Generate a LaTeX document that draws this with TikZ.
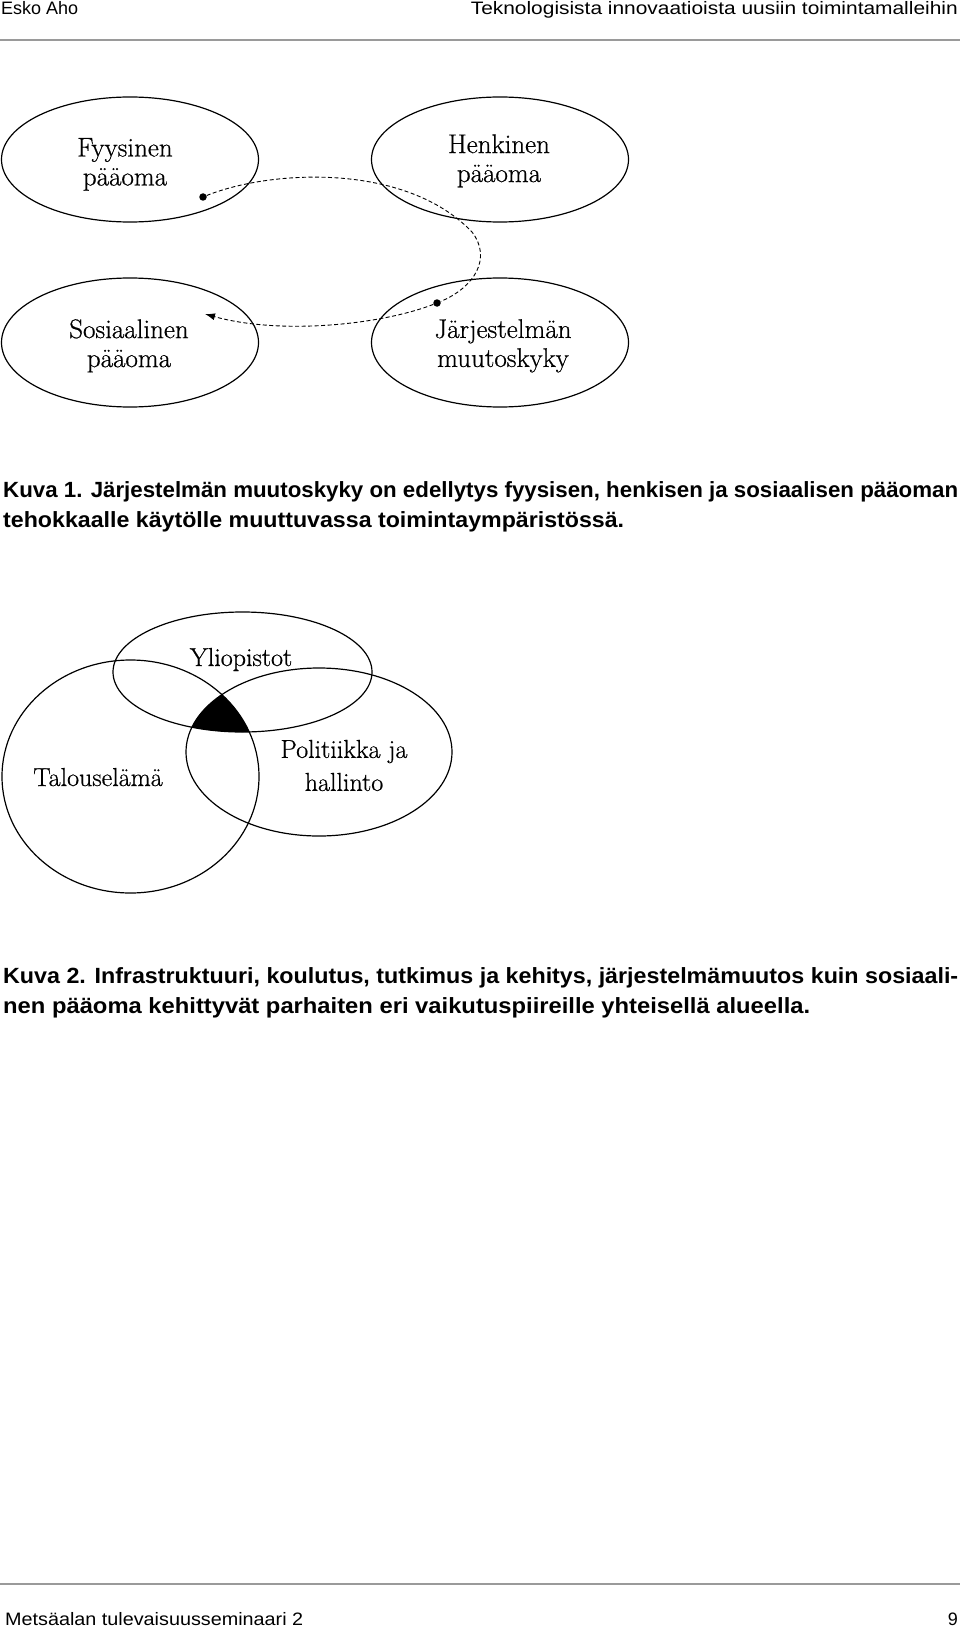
\documentclass[tikz,border=0pt]{standalone}
\usepackage{fontspec}
\usepackage{graphicx}
\usetikzlibrary{arrows.meta,shapes.geometric}
\newfontfamily\hdrfont{Liberation Sans}
\newfontfamily\labfont{Latin Modern Roman}[FakeBold=0.6]
\definecolor{cRule}{HTML}{9A9A9A}
\newcommand{\fitto}[2]{\resizebox{#1}{\height}{#2}}

\begin{document}
\begin{tikzpicture}[x=1pt, y=-1pt,
    ell/.style={ellipse, draw, line width=1.2pt, minimum width=257pt,
      minimum height=125pt, inner sep=0pt},
    lab/.style={font=\labfont\fontsize{27}{29}\selectfont, align=center, inner sep=0pt},
    vlab/.style={font=\labfont\fontsize{26}{33}\selectfont, align=center, inner sep=0pt},
    dotmark/.style={circle, fill, inner sep=0pt, minimum size=7.5pt},
    dashd/.style={dash pattern=on 4pt off 2.5pt, line width=0.9pt},
    flowd/.style={dashd, -{Latex[length=10pt,width=7pt]}},
    venn/.style={line width=1.2pt},
    hdr/.style={font=\hdrfont\fontsize{18}{22}\selectfont, anchor=base west, inner sep=0pt},
    captxt/.style={font=\hdrfont\bfseries\fontsize{22}{26}\selectfont, anchor=base west, inner sep=0pt},
    hrule/.style={draw=cRule, line width=2pt}]

    \useasboundingbox (0,0) rectangle (960,1629);

    % page header and footer
    \node[hdr] (author) at (1,15) {\fitto{77pt}{Esko Aho}};
    \node[hdr, anchor=base east] (title) at (958,15)
      {\fitto{487pt}{Teknologisista innovaatioista uusiin toimintamalleihin}};
    \draw[hrule] (0,40.5) -- (960,40.5);
    \draw[hrule] (0,1584) -- (960,1584);
    \node[hdr] (series) at (5,1625) {\fitto{298pt}{Metsäalan tulevaisuusseminaari 2}};
    \node[hdr, anchor=base east] (page) at (958,1625) {9};

    % Kuva 1
    \node[ell] (fys) at (130,159.5) {};
    \node[ell] (hen) at (500,159.5) {};
    \node[ell, minimum height=129pt] (sos) at (130,342.5) {};
    \node[ell, minimum height=129pt] (jar) at (500,342.5) {};

    \node[lab] (fysT) at (125,164.4) {Fyysinen\\pääoma};
    \node[lab] (henT) at (499,160.8) {Henkinen\\pääoma};
    \node[lab] (sosT) at (129,345.8) {Sosiaalinen\\pääoma};
    \node[lab] (jarT) at (503,345.8) {Järjestelmän\\muutoskyky};

    \node[dotmark] (dotA) at (203,197) {};
    \node[dotmark] (dotB) at (437,303) {};
    \coordinate (sosIn) at (205,314);

    \draw[dashd] (dotA) .. controls (270,170) and (405,162) .. (472,232)
      .. controls (492,258) and (475,287) .. (dotB);
    \draw[flowd] (dotB) .. controls (380,325) and (280,335) .. (sosIn);

    \node[captxt] (k1a) at (3,497) {\fitto{955pt}{Kuva 1. Järjestelmän muutoskyky on edellytys fyysisen, henkisen ja sosiaalisen pääoman}};
    \node[captxt] (k1b) at (3,527) {\fitto{621pt}{tehokkaalle käytölle muuttuvassa toimintaympäristössä.}};

    % Kuva 2
    \begin{scope}
      \clip (130.5,776.5) ellipse [x radius=128.5pt, y radius=116.5pt];
      \clip (319,752) ellipse [x radius=133pt, y radius=84pt];
      \fill (242.5,672) ellipse [x radius=129.5pt, y radius=60pt];
    \end{scope}
    \draw[venn] (130.5,776.5) ellipse [x radius=128.5pt, y radius=116.5pt];
    \draw[venn] (319,752) ellipse [x radius=133pt, y radius=84pt];
    \draw[venn] (242.5,672) ellipse [x radius=129.5pt, y radius=60pt];

    \node[vlab, anchor=base] (ylio) at (241,666) {Yliopistot};
    \node[vlab, anchor=base] (talo) at (98,786) {Talouselämä};
    \node[vlab] (poli) at (344,765.5) {Politiikka ja\\hallinto};

    \node[captxt] (k2a) at (3,983) {\fitto{955pt}{Kuva 2. Infrastruktuuri, koulutus, tutkimus ja kehitys, järjestelmämuutos kuin sosiaali-}};
    \node[captxt] (k2b) at (3,1013) {\fitto{807pt}{nen pääoma kehittyvät parhaiten eri vaikutuspiireille yhteisellä alueella.}};
\end{tikzpicture}
\end{document}
